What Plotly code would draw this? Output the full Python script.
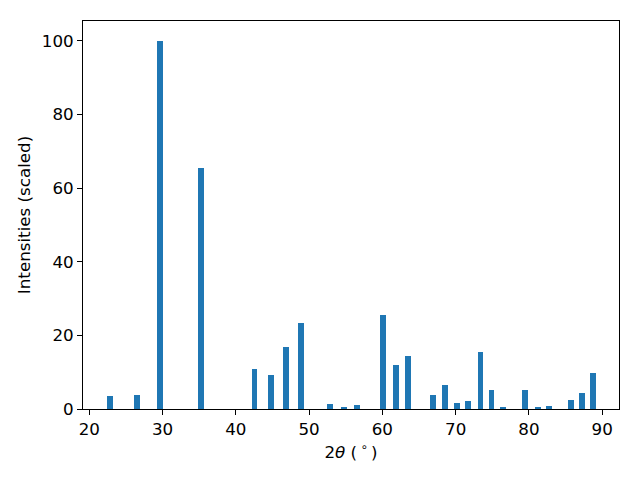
import plotly.graph_objects as go

two_theta = [22.8, 26.5, 29.7, 35.3, 42.55, 44.75, 46.9, 48.9, 52.8, 54.75, 56.5,
             60.1, 61.9, 63.5, 66.9, 68.6, 70.2, 71.7, 73.4, 74.9, 76.5, 79.5,
             81.2, 82.7, 85.7, 87.2, 88.7]
intensity = [3.5, 3.8, 100.0, 65.5, 10.9, 9.2, 16.8, 23.4, 1.4, 0.6, 1.1,
             25.5, 12.0, 14.4, 3.8, 6.5, 1.6, 2.2, 15.5, 5.2, 0.6, 5.2,
             0.3, 0.8, 2.4, 4.3, 9.8]
x_ticks = [20, 30, 40, 50, 60, 70, 80, 90]
y_ticks = [0, 20, 40, 60, 80, 100]

fig = go.Figure(go.Bar(x=two_theta, y=intensity, width=0.8,
                       marker=dict(color="#1f77b4", line=dict(width=0))))

FONT = dict(family="DejaVu Sans", size=16.7, color="black")
axis_common = dict(showline=True, linecolor="black", linewidth=1, mirror=True,
                   ticks="outside", ticklen=5, tickwidth=1, tickcolor="black",
                   showgrid=False, zeroline=False, automargin=False,
                   tickfont=FONT, title_font=FONT)

fig.update_layout(
    width=640, height=480,
    margin=dict(l=83, r=21, t=21, b=71),
    plot_bgcolor="white", paper_bgcolor="white",
    bargap=0, showlegend=False,
    xaxis=dict(range=[19.14, 92.3], tickvals=x_ticks,
               title=dict(text="2<i>θ</i> (\u2009<sup>∘</sup>\u2009)", standoff=8), **axis_common),
    yaxis=dict(range=[0, 105.4], tickvals=y_ticks,
               title=dict(text="Intensities (scaled)", standoff=6), **axis_common),
)

fig.write_html("out.html", config={"displayModeBar": False},
               post_script="document.body.style.margin='0';")
